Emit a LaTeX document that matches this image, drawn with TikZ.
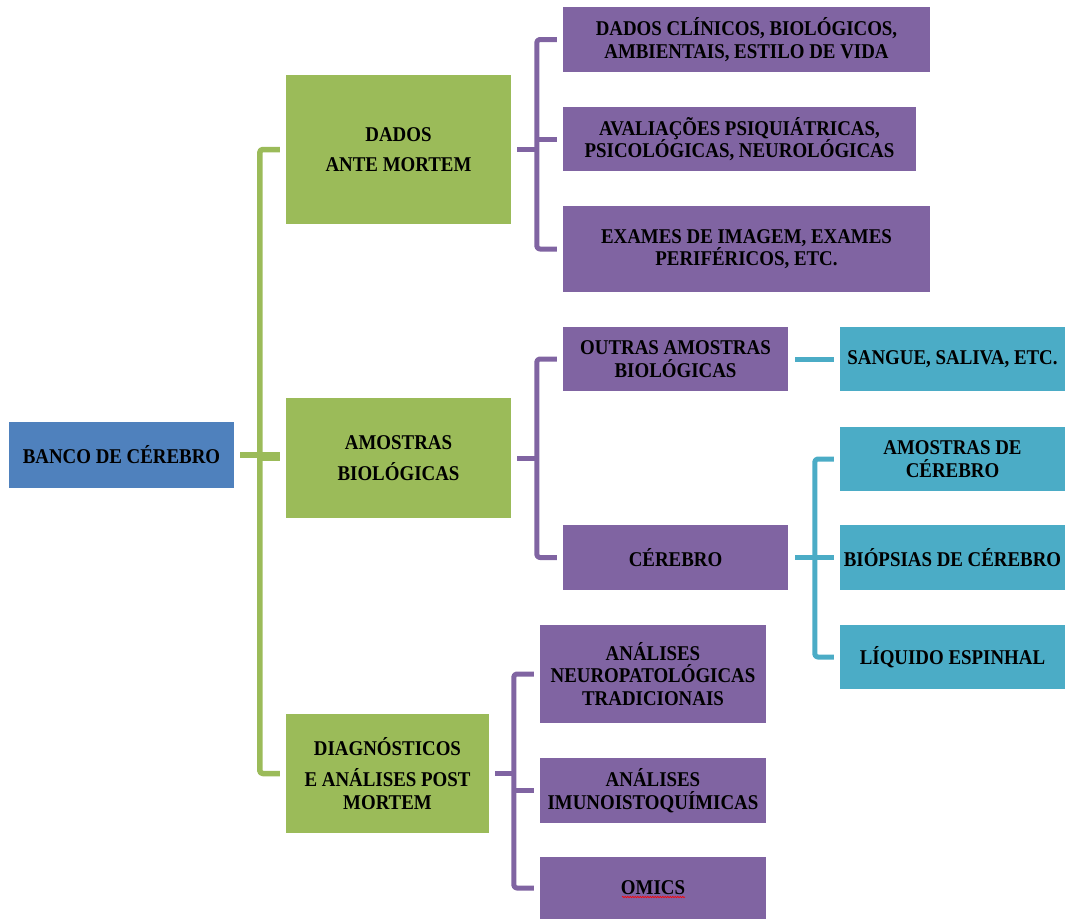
\documentclass[tikz,border=0pt]{standalone}
\usepackage{fontspec}
\setmainfont{Liberation Serif}[FakeStretch=0.9]
\usetikzlibrary{decorations.pathmorphing}
\definecolor{rootblue}{HTML}{4F81BD}
\definecolor{levgreen}{HTML}{9BBB59}
\definecolor{levpurple}{HTML}{8064A2}
\definecolor{levcyan}{HTML}{4BACC6}
\begin{document}
\begin{tikzpicture}[x=1pt,y=-1pt,
  box/.style={rectangle, inner sep=0pt, align=center, text=black,
    font=\fontsize{21}{22.5}\selectfont\bfseries},
  rootbox/.style={box, fill=rootblue},
  gbox/.style={box, fill=levgreen},
  pbox/.style={box, fill=levpurple},
  cbox/.style={box, fill=levcyan},
  link/.style={line width=5pt, line join=round, rounded corners=3pt},
  glink/.style={link, draw=levgreen, line width=5.5pt},
  plink/.style={link, draw=levpurple},
  clink/.style={link, draw=levcyan},
]
\useasboundingbox (0,0) rectangle (1065,919);

% root
\node[rootbox, minimum width=225, minimum height=66] (root) at (121.5,455) {BANCO DE CÉREBRO};

% first level
\node[gbox, minimum width=225, minimum height=149] (gA) at (398.5,149.5) {DADOS\\[8pt]ANTE MORTEM};
\node[gbox, minimum width=225, minimum height=120] (gB) at (398.5,458) {AMOSTRAS\\[8pt]BIOLÓGICAS};
\node[gbox, minimum width=203, minimum height=119] (gC) at (387.5,773.5) {DIAGNÓSTICOS\\[8.5pt]E ANÁLISES POST\\MORTEM};

% second level
\node[pbox, minimum width=367, minimum height=65] (p1) at (746.5,39.5) {DADOS CLÍNICOS, BIOLÓGICOS,\\AMBIENTAIS, ESTILO DE VIDA};
\node[pbox, minimum width=353, minimum height=64] (p2) at (739.5,139) {AVALIAÇÕES PSIQUIÁTRICAS,\\PSICOLÓGICAS, NEUROLÓGICAS};
\node[pbox, minimum width=367, minimum height=86] (p3) at (746.5,249) {EXAMES DE IMAGEM, EXAMES\\PERIFÉRICOS, ETC.};
\node[pbox, minimum width=225, minimum height=64] (p4) at (675.5,359) {OUTRAS AMOSTRAS\\BIOLÓGICAS};
\node[pbox, minimum width=225, minimum height=65] (p5) at (675.5,557.5) {CÉREBRO};
\node[pbox, minimum width=226, minimum height=98] (q1) at (653,674) {ANÁLISES\\NEUROPATOLÓGICAS\\TRADICIONAIS};
\node[pbox, minimum width=226, minimum height=65] (q2) at (653,790.5) {ANÁLISES\\IMUNOISTOQUÍMICAS};
\node[pbox, minimum width=226, minimum height=62] (q3) at (653,888) {OMICS};

% third level
\node[cbox, minimum width=225, minimum height=64] (c1) at (952.5,359) {SANGUE, SALIVA, ETC.};
\node[cbox, minimum width=225, minimum height=64] (c2) at (952.5,459) {AMOSTRAS DE\\CÉREBRO};
\node[cbox, minimum width=225, minimum height=65] (c3) at (952.5,557.5) {BIÓPSIAS DE CÉREBRO};
\node[cbox, minimum width=225, minimum height=64] (c4) at (952.5,657) {LÍQUIDO ESPINHAL};

% spell-check squiggle under OMICS
\draw[red, line width=0.6pt, decorate, decoration={snake, amplitude=0.7pt, segment length=2.5pt}]
  ([xshift=-31pt,yshift=-9pt]q3.center) -- ([xshift=32pt,yshift=-9pt]q3.center);

% root -> first level
\draw[glink] ([xshift=6pt]root.east) -- ++(40,0);
\draw[glink] ([xshift=-6pt]gA.west) -| ([xshift=-26pt]gC.west) -- ([xshift=-6pt]gC.west);
\draw[glink] ([xshift=-6pt]gB.west) -- ++(-20,0);

% ante mortem
\draw[plink] ([xshift=6pt]gA.east) -- ++(20,0);
\draw[plink] ([xshift=-6pt]p1.west) -| ([xshift=-26pt]p3.west) -- ([xshift=-6pt]p3.west);
\draw[plink] ([xshift=-6pt]p2.west) -- ++(-20,0);

% biological samples
\draw[plink] ([xshift=6pt]gB.east) -- ++(20,0);
\draw[plink] ([xshift=-6pt]p4.west) -| ([xshift=-26pt]p5.west) -- ([xshift=-6pt]p5.west);

% post mortem
\draw[plink] ([xshift=6pt]gC.east) -- ++(20,0);
\draw[plink] ([xshift=-6pt]q1.west) -| ([xshift=-26pt]q3.west) -- ([xshift=-6pt]q3.west);
\draw[plink] ([xshift=-6pt]q2.west) -- ++(-20,0);

% samples
\draw[clink] ([xshift=7pt]p4.east) -- ([xshift=-6pt]c1.west);
\draw[clink] ([xshift=7pt]p5.east) -- ++(20,0);
\draw[clink] ([xshift=-6pt]c2.west) -| ([xshift=-25pt]c4.west) -- ([xshift=-6pt]c4.west);
\draw[clink] ([xshift=-6pt]c3.west) -- ++(-19,0);
\end{tikzpicture}
\end{document}
